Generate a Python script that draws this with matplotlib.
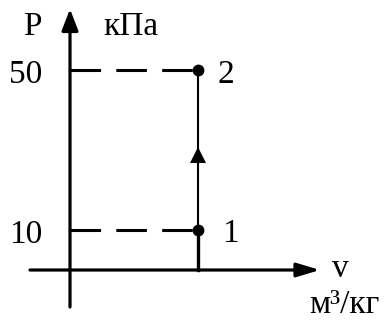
import matplotlib
matplotlib.use("Agg")
import matplotlib.pyplot as plt

# --- data ---
state_labels = ["1", "2"]
v_state = [1.0, 1.0]          # specific volume (schematic units)
p_state = [10, 50]            # pressure, kPa
p_ticks = [10, 50]
p_tick_labels = ["10", "50"]
y_label = "P"
y_unit = "кПа"
x_label = "v"
x_unit = "м³/кг"

plt.rcParams['font.family'] = ['Liberation Serif', 'DejaVu Serif']
plt.rcParams['lines.scale_dashes'] = False

W, H = 386, 326
fig = plt.figure(figsize=(W / 100, H / 100), dpi=100)
ax = fig.add_axes([0, 0, 1, 1])
ax.axis('off')

# pixel <-> data mapping (schematic)
X0, SX = 70, 128.0
Y0, SY = 270, 4.0
def px(x, y):
    return ((x - X0) / SX, (Y0 - y) / SY)

ax.set_xlim(px(0, 0)[0], px(W, 0)[0])
ax.set_ylim(px(0, H)[1], px(0, 0)[1])

lw_axis = 2.3
fs = 24

# axes with arrows
xa0 = px(30, 0)[0]; xa1 = px(320, 0)[0]
ya0 = px(0, 307)[1]; ya1 = px(0, 9)[1]
ax.annotate('', xy=(xa1, 0), xytext=(xa0, 0),
            arrowprops=dict(arrowstyle='-|>,head_length=1.4,head_width=0.42',
                            lw=lw_axis, color='black', shrinkA=0, shrinkB=0))
ax.annotate('', xy=(0, ya1), xytext=(0, ya0),
            arrowprops=dict(arrowstyle='-|>,head_length=1.3,head_width=0.5',
                            lw=lw_axis, color='black', shrinkA=0, shrinkB=0))

# dashed projections to P axis
for v, p in zip(v_state, p_state):
    ax.plot([0, v], [p, p], color='black', lw=2.2, dashes=(22, 11),
            solid_capstyle='butt', dash_capstyle='butt')

# drop line from state 1 to v axis
ax.plot([v_state[0], v_state[0]], [0, p_state[0]], color='black', lw=2.4)

# process line 1 -> 2
ax.plot(v_state, p_state, color='black', lw=1.5)
# direction arrow
vm = (v_state[0] + v_state[1]) / 2
pm = (p_state[0] + p_state[1]) / 2
ax.plot([vm], [pm - 1.2], marker='^', markersize=12, color='black', mew=0)

# state points
ax.plot(v_state, p_state, 'o', color='black', markersize=7.5)

# state labels
ax.text(v_state[0] + px(230, 0)[0] - 1.0, p_state[0] - 3.0, state_labels[0],
        ha='center', va='baseline', fontsize=fs)
ax.text(v_state[1] + px(226, 0)[0] - 1.0, p_state[1] - 3.25, state_labels[1],
        ha='center', va='baseline', fontsize=fs)

# pressure tick labels
for p, lab in zip(p_ticks, p_tick_labels):
    ax.text(px(26, 0)[0], p - 3.3, lab, ha='center', va='baseline', fontsize=fs)

# axis labels
ax.text(*px(32, 35), y_label, ha='center', va='baseline', fontsize=fs)
ax.text(*px(131, 35), y_unit, ha='center', va='baseline', fontsize=fs)
ax.text(*px(340, 277), x_label, ha='center', va='baseline', fontsize=fs)
ax.text(*px(344, 313), x_unit, ha='center', va='baseline', fontsize=fs)

fig.savefig('out.png', dpi=100)
